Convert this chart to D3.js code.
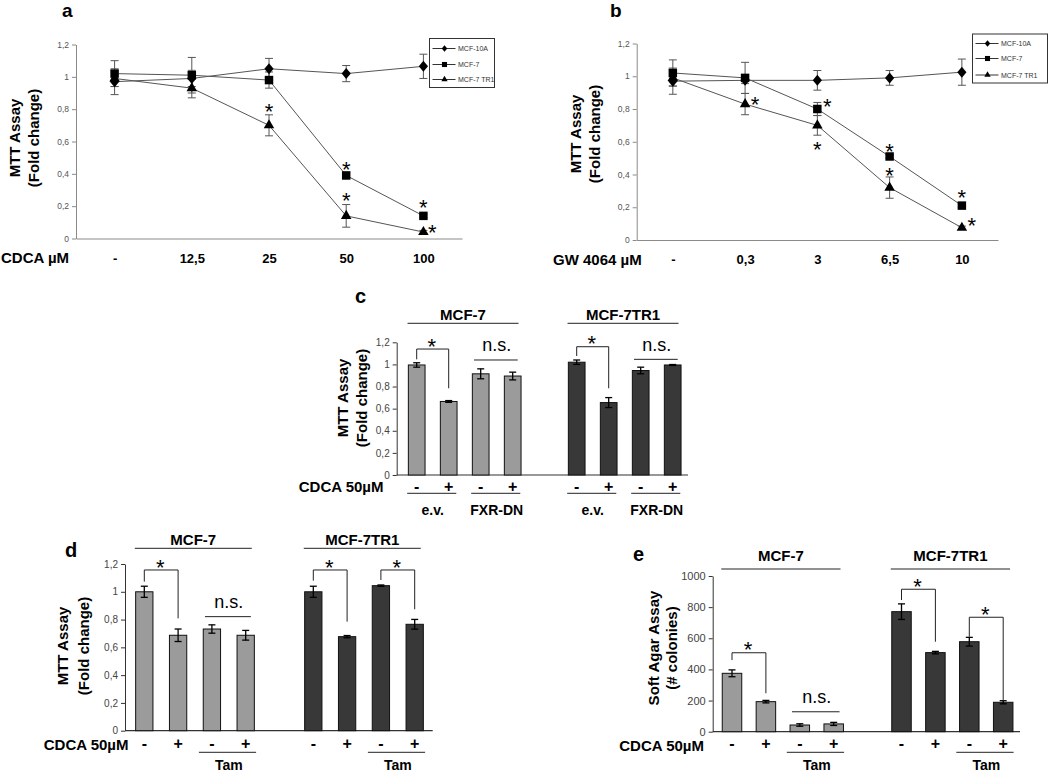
<!DOCTYPE html>
<html><head><meta charset="utf-8">
<script src="https://cdn.jsdelivr.net/npm/d3@7"></script>
<style>
body{margin:0;background:#fff}
svg{display:block}
text{font-family:"Liberation Sans",Arial,sans-serif}
</style>
</head><body>
<svg id="fig" width="1050" height="773"></svg>
<script>
// ================= DATA =================
const legendNames = ["MCF-10A", "MCF-7", "MCF-7 TR1"];
const yTicksFold = [0, 0.2, 0.4, 0.6, 0.8, 1, 1.2];
const yTicksColonies = [0, 200, 400, 600, 800, 1000];

// panel a (CDCA dose response)
const cdcaDoses = ["-", "12,5", "25", "50", "100"];
const a_mcf10a = [0.97, 0.99, 1.05, 1.02, 1.065];
const a_mcf10aErr = [0.08, 0.05, 0.064, 0.05, 0.075];
const a_mcf7 = [1.02, 1.01, 0.98, 0.39, 0.14];
const a_mcf7Err = [0.08, 0.11, 0.05, 0.02, 0.01];
const a_tr1 = [0.99, 0.93, 0.70, 0.14, 0.04];
const a_tr1Err = [0.05, 0.06, 0.065, 0.07, 0.01];
// significance stars: [dose index, value, "c" above / "r" to the right]
const a_stars = [[2, 0.82, "c"], [3, 0.465, "c"], [3, 0.27, "c"], [4, 0.23, "c"], [4, 0.075, "r"]];

// panel b (GW 4064 dose response)
const gwDoses = ["-", "0,3", "3", "6,5", "10"];
const b_mcf10a = [0.97, 0.975, 0.975, 0.99, 1.025];
const b_mcf10aErr = [0.08, 0.02, 0.06, 0.045, 0.08];
const b_mcf7 = [1.02, 0.99, 0.80, 0.51, 0.21];
const b_mcf7Err = [0.08, 0.095, 0.04, 0.01, 0.01];
const b_tr1 = [0.99, 0.83, 0.70, 0.32, 0.075];
const b_tr1Err = [0.05, 0.065, 0.06, 0.065, 0.01];
const b_stars = [[1, 0.865, "r"], [2, 0.848, "r"], [2, 0.59, "c"], [3, 0.574, "c"], [3, 0.427, "c"], [4, 0.295, "c"], [4, 0.126, "r"]];

// bar panels
const cellLines = ["MCF-7", "MCF-7TR1"];
const cdcaSigns = ["-", "+", "-", "+"];

// panel c
const c_mcf7 = [0.995, 0.665, 0.915, 0.895];
const c_mcf7Err = [0.02, 0.008, 0.045, 0.035];
const c_tr1 = [1.02, 0.655, 0.945, 0.995];
const c_tr1Err = [0.02, 0.045, 0.03, 0.004];
const c_subgroups = [["e.v.", 0, 1], ["FXR-DN", 2, 3], ["e.v.", 5, 6], ["FXR-DN", 7, 8]];
const c_brackets = [[0, 1, 1.139, 1.046, 0.784], [5, 6, 1.16, 1.076, 0.784]];
const c_ns = [[2, 3, 1.04], [7, 8, 1.046]];

// panel d
const d_mcf7 = [1.0, 0.687, 0.732, 0.687];
const d_mcf7Err = [0.04, 0.045, 0.03, 0.035];
const d_tr1 = [1.0, 0.677, 1.044, 0.766];
const d_tr1Err = [0.04, 0.008, 0.005, 0.035];
const d_subgroups = [["Tam", 2, 3], ["Tam", 7, 8]];
const d_brackets = [[0, 1, 1.157, 1.073, 0.809], [5, 6, 1.157, 1.08, 0.785], [7, 8, 1.157, 1.085, 0.874]];
const d_ns = [[2, 3, 0.821]];

// panel e
const e_mcf7 = [375, 193, 43, 50];
const e_mcf7Err = [22, 8, 8, 10];
const e_tr1 = [771, 508, 578, 189];
const e_tr1Err = [50, 8, 28, 10];
const e_subgroups = [["Tam", 2, 3], ["Tam", 7, 8]];
const e_brackets = [[0, 1, 507, 460, 247], [5, 6, 915, 846, 578], [7, 8, 735, 610, 204]];
const e_ns = [[2, 3, 128]];

// ================= DRAWING =================
const svg = d3.select("#fig");
const commaFmt = d => String(Math.round(d * 10) / 10).replace(".", ",");

const diamondType = { draw(ctx) { ctx.moveTo(0, -5.5); ctx.lineTo(4.6, 0); ctx.lineTo(0, 5.5); ctx.lineTo(-4.6, 0); ctx.closePath(); } };
const symbolTypes = [diamondType, d3.symbolSquare, d3.symbolTriangle];
const symbolSizes = [1, 72, 48];

function star(g, x, yc, fs) {
  fs = fs || 22;
  g.append("text").attr("x", x).attr("y", yc + 0.6 * fs).attr("text-anchor", "middle")
    .attr("font-size", fs).attr("fill", "#000").text("*");
}
function label(g, x, y, txt, size, weight, anchor, fill) {
  return g.append("text").attr("x", x).attr("y", y).attr("font-size", size)
    .attr("font-weight", weight || "normal").attr("text-anchor", anchor || "middle")
    .attr("fill", fill || "#000").text(txt);
}
function yTitle(g, xb1, xb2, yc, l1, l2) {
  [[xb1, l1], [xb2, l2]].forEach(([xb, t]) => {
    g.append("text").attr("transform", `translate(${xb},${yc}) rotate(-90)`)
      .attr("text-anchor", "middle").attr("font-size", 15).attr("font-weight", "bold").text(t);
  });
}

function linePanel(o) {
  const g = svg.append("g");
  const x = d3.scalePoint().domain(o.doses).range([o.ax, o.axEnd]).padding(0.5);
  const y = d3.scaleLinear().domain([0, 1.2]).range([o.y0, o.y12]);

  const ya = g.append("g").attr("transform", `translate(${o.ax},0)`)
    .call(d3.axisLeft(y).tickValues(yTicksFold).tickFormat(commaFmt).tickSize(4).tickSizeOuter(0).tickPadding(3));
  ya.select(".domain").attr("stroke", "#8a8a8a");
  ya.selectAll(".tick line").attr("stroke", "#8a8a8a");
  ya.selectAll(".tick text").attr("font-size", 8.5).attr("fill", "#555").attr("font-family", null);

  const xa = g.append("g").attr("transform", `translate(0,${o.y0})`)
    .call(d3.axisBottom(x).tickSize(0).tickSizeOuter(0).tickPadding(15));
  xa.select(".domain").attr("stroke", "#8a8a8a");
  xa.selectAll(".tick text").attr("font-size", 13).attr("font-weight", "bold").attr("fill", "#000").attr("font-family", null);

  label(g, o.xTitleX, o.y0 + 24.5, o.xTitle, 15, "bold", o.xTitleAnchor);
  yTitle(g, o.ax - 56, o.ax - 37, o.yTitleY, "MTT Assay", "(Fold change)");
  label(g, o.letterX, 17, o.letter, 19, "bold", "start");

  const series = [[o.s10a, o.e10a], [o.s7, o.e7], [o.str1, o.etr1]];
  // error bars
  series.forEach(([vals, errs]) => {
    vals.forEach((v, i) => {
      const cx = x(o.doses[i]);
      const eb = g.append("g").attr("stroke", "#555").attr("stroke-width", 1);
      eb.append("line").attr("x1", cx).attr("x2", cx).attr("y1", y(v - errs[i])).attr("y2", y(v + errs[i]));
      [v - errs[i], v + errs[i]].forEach(e => eb.append("line").attr("x1", cx - 4).attr("x2", cx + 4).attr("y1", y(e)).attr("y2", y(e)));
    });
  });
  // lines
  const line = d3.line().x((d, i) => x(o.doses[i])).y(d => y(d));
  series.forEach(([vals]) => g.append("path").attr("d", line(vals)).attr("fill", "none").attr("stroke", "#555").attr("stroke-width", 1));
  // markers
  series.forEach(([vals], si) => {
    g.selectAll(null).data(vals).join("path")
      .attr("transform", (d, i) => `translate(${x(o.doses[i])},${y(d)})`)
      .attr("d", d3.symbol(symbolTypes[si], symbolSizes[si])).attr("fill", "#000");
  });
  // stars
  o.stars.forEach(([i, v, side]) => star(g, x(o.doses[i]) + (side === "r" ? o.starDx : 0), y(v)));

  // legend
  const L = o.legend;
  g.append("rect").attr("x", L.x).attr("y", L.y).attr("width", L.w).attr("height", L.h)
    .attr("fill", "#fff").attr("stroke", "#333").attr("stroke-width", 1);
  legendNames.forEach((nm, i) => {
    const ry = L.y + L.rows[i];
    g.append("line").attr("x1", L.x + 3).attr("x2", L.x + 26).attr("y1", ry).attr("y2", ry).attr("stroke", "#333").attr("stroke-width", 1);
    g.append("path").attr("transform", `translate(${L.x + 15},${ry}) scale(0.6)`)
      .attr("d", d3.symbol(symbolTypes[i], symbolSizes[i])).attr("fill", "#000");
    label(g, L.x + 28.5, ry + 2.5, nm, 7, "normal", "start", "#333");
  });
}

function barPanel(o) {
  const g = svg.append("g");
  const y = d3.scaleLinear().domain([0, o.ymax]).range([o.y0, o.ytop]);
  const x = d3.scaleLinear().domain([0, 8]).range([o.s0, o.s8]);
  const bw = o.bw;

  const ya = g.append("g").attr("transform", `translate(${o.ax},0)`)
    .call(d3.axisLeft(y).tickValues(o.ticks).tickFormat(o.fmt).tickSize(4).tickSizeOuter(0).tickPadding(3));
  ya.select(".domain").attr("stroke", "#333");
  ya.selectAll(".tick line").attr("stroke", "#333");
  ya.selectAll(".tick text").attr("font-size", o.tickFs).attr("fill", "#444").attr("font-family", null);
  g.append("line").attr("x1", o.ax).attr("x2", o.axEnd).attr("y1", y(0)).attr("y2", y(0)).attr("stroke", "#333").attr("stroke-width", 1.2);

  const bars = o.g1.map((v, i) => ({ slot: i, v, e: o.e1[i], c: "#9b9b9b" }))
    .concat(o.g2.map((v, i) => ({ slot: i + 5, v, e: o.e2[i], c: "#383838" })));
  g.selectAll(null).data(bars).join("rect")
    .attr("x", d => x(d.slot) - bw / 2).attr("y", d => y(d.v))
    .attr("width", bw).attr("height", d => y(0) - y(d.v))
    .attr("fill", d => d.c).attr("stroke", "#111").attr("stroke-width", 1);
  bars.forEach(d => {
    const cx = x(d.slot);
    const eb = g.append("g").attr("stroke", "#000").attr("stroke-width", 1.3);
    eb.append("line").attr("x1", cx).attr("x2", cx).attr("y1", y(d.v - d.e)).attr("y2", y(d.v + d.e));
    [d.v - d.e, d.v + d.e].forEach(e => eb.append("line").attr("x1", cx - 3.5).attr("x2", cx + 3.5).attr("y1", y(e)).attr("y2", y(e)));
  });

  // brackets with stars
  o.brackets.forEach(([a, b, top, la, lb]) => {
    g.append("path").attr("d", `M${x(a)},${y(la)}V${y(top)}H${x(b)}V${y(lb)}`)
      .attr("fill", "none").attr("stroke", "#222").attr("stroke-width", 1);
    star(g, (x(a) + x(b)) / 2 - 1, y(top) - 8.5);
  });
  o.ns.forEach(([a, b, v]) => {
    g.append("line").attr("x1", x(a) - bw * 0.4).attr("x2", x(b) + bw * 0.3).attr("y1", y(v)).attr("y2", y(v)).attr("stroke", "#222");
    label(g, (x(a) + x(b)) / 2, y(v) - 8.5, "n.s.", 18, "normal");
  });

  // cell line headers
  [[0, 3], [5, 8]].forEach(([a, b], i) => {
    const x1 = x(a) - bw * 0.55, x2 = x(b) + bw * 0.35;
    g.append("line").attr("x1", x1).attr("x2", x2).attr("y1", o.headLineY).attr("y2", o.headLineY).attr("stroke", "#222");
    label(g, (x1 + x2) / 2, o.headTextY, cellLines[i], 15, "bold");
  });

  // CDCA signs
  label(g, o.cdcaX, o.cdcaY, "CDCA 50µM", 15, "bold", "end");
  [0, 1, 2, 3, 5, 6, 7, 8].forEach((s, k) => label(g, x(s), o.signY, cdcaSigns[k % 4], 16, "bold"));

  // subgroup lines
  o.subgroups.forEach(([t, a, b]) => {
    g.append("line").attr("x1", x(a) - o.subExt).attr("x2", x(b) + o.subExt * 0.8)
      .attr("y1", o.subLineY).attr("y2", o.subLineY).attr("stroke", "#222");
    label(g, (x(a) + x(b)) / 2, o.subTextY, t, o.subFs, "bold");
  });

  yTitle(g, o.ax + o.yt1, o.ax + o.yt2, o.yTitleY, o.yl1, o.yl2);
  label(g, o.letterX, o.letterY, o.letter, 20, "bold", "start");
}

linePanel({
  doses: cdcaDoses, ax: 76, axEnd: 462, y0: 238.5, y12: 44.5,
  s10a: a_mcf10a, e10a: a_mcf10aErr, s7: a_mcf7, e7: a_mcf7Err, str1: a_tr1, etr1: a_tr1Err,
  stars: a_stars, starDx: 9,
  xTitle: "CDCA µM", xTitleX: 1, xTitleAnchor: "start", yTitleY: 138,
  letter: "a", letterX: 62,
  legend: { x: 429.5, y: 38.5, w: 65, h: 49, rows: [10, 26, 41] }
});
linePanel({
  doses: gwDoses, ax: 636.7, axEnd: 998, y0: 240, y12: 43.5,
  s10a: b_mcf10a, e10a: b_mcf10aErr, s7: b_mcf7, e7: b_mcf7Err, str1: b_tr1, etr1: b_tr1Err,
  stars: b_stars, starDx: 10,
  xTitle: "GW 4064 µM", xTitleX: 553, xTitleAnchor: "start", yTitleY: 134,
  letter: "b", letterX: 610,
  legend: { x: 972.5, y: 34, w: 75, h: 49, rows: [9.5, 24.5, 41] }
});

barPanel({
  ymax: 1.2, y0: 475, ytop: 342.3, ticks: yTicksFold, fmt: commaFmt, tickFs: 10,
  ax: 396.7, axEnd: 688, s0: 416.7, s8: 672.7, bw: 16.7,
  g1: c_mcf7, e1: c_mcf7Err, g2: c_tr1, e2: c_tr1Err,
  brackets: c_brackets, ns: c_ns,
  headLineY: 323.3, headTextY: 319.5,
  cdcaX: 383.5, cdcaY: 492, signY: 491.5,
  subgroups: c_subgroups, subExt: 9.5, subLineY: 493.3, subTextY: 515, subFs: 14,
  yt1: -49, yt2: -30, yTitleY: 398, yl1: "MTT Assay", yl2: "(Fold change)",
  letter: "c", letterX: 355, letterY: 303
});
barPanel({
  ymax: 1.2, y0: 730.7, ytop: 564, ticks: yTicksFold, fmt: commaFmt, tickFs: 10,
  ax: 125, axEnd: 432.7, s0: 144.3, s8: 414.7, bw: 17.3,
  g1: d_mcf7, e1: d_mcf7Err, g2: d_tr1, e2: d_tr1Err,
  brackets: d_brackets, ns: d_ns,
  headLineY: 548.3, headTextY: 545,
  cdcaX: 128.5, cdcaY: 749.5, signY: 748.5,
  subgroups: d_subgroups, subExt: 13, subLineY: 752.3, subTextY: 770, subFs: 14,
  yt1: -57, yt2: -36, yTitleY: 646, yl1: "MTT Assay", yl2: "(Fold change)",
  letter: "d", letterX: 65, letterY: 557
});
barPanel({
  ymax: 1000, y0: 731.7, ytop: 576, ticks: yTicksColonies, fmt: d3.format("d"), tickFs: 11,
  ax: 712.7, axEnd: 1020, s0: 732, s8: 1003.2, bw: 19.5,
  g1: e_mcf7, e1: e_mcf7Err, g2: e_tr1, e2: e_tr1Err,
  brackets: e_brackets, ns: e_ns,
  headLineY: 569, headTextY: 561,
  cdcaX: 704, cdcaY: 751, signY: 748.5,
  subgroups: e_subgroups, subExt: 13, subLineY: 752.3, subTextY: 770, subFs: 14,
  yt1: -54, yt2: -36, yTitleY: 648, yl1: "Soft Agar Assay", yl2: "(# colonies)",
  letter: "e", letterX: 633, letterY: 561
});
</script>
</body></html>
